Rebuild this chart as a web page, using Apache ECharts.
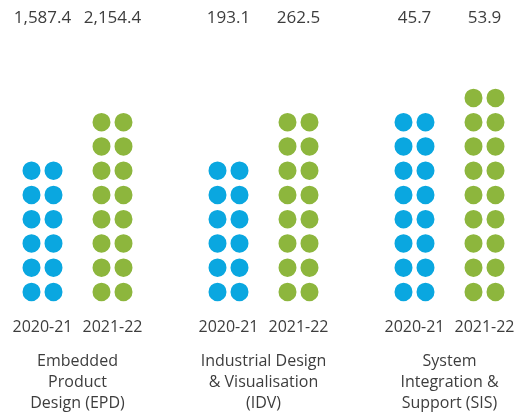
<!DOCTYPE html>
<html>
<head>
<meta charset="utf-8">
<script src="https://cdn.jsdelivr.net/npm/echarts@6/dist/echarts.min.js"></script>
<style>
  html, body { margin: 0; padding: 0; background: #fff; }
  #chart { width: 517px; height: 416px; }
</style>
</head>
<body>
<div id="chart"></div>
<script>
const groups = ['Embedded\nProduct\nDesign (EPD)', 'Industrial Design\n& Visualisation\n(IDV)', 'System\nIntegration &\nSupport (SIS)']
const years = ['2020-21', '2021-22']
const values2021 = [1587.4, 193.1, 45.7]
const values2122 = [2154.4, 262.5, 53.9]
const dots2021 = [6, 6, 8] // rows of dot pairs
const dots2122 = [8, 8, 9]

const textColor = '#3d3d3d'
const fontFamily = '"Open Sans", sans-serif'
// two circles side by side
const dotPair = 'path://M9,0A9,9 0 1,1 9,18A9,9 0 1,1 9,0ZM31,0A9,9 0 1,1 31,18A9,9 0 1,1 31,0Z'

const fmt = v => v.toLocaleString('en-US', { minimumFractionDigits: 1, maximumFractionDigits: 1 })

const chart = echarts.init(document.getElementById('chart'))

function dotSeries(name, rows, color) {
  return {
    name: name,
    type: 'pictorialBar',
    // one symbol per row, spread over the bar's own length
    data: rows.map(n => ({ value: n, symbolRepeat: n, symbolBoundingData: n })),
    symbol: dotPair,
    symbolSize: [40, 18.5],
    symbolMargin: '3!',
    barWidth: 40,
    barGap: '75%',
    itemStyle: { color: color },
    label: {
      show: true,
      position: 'bottom',
      distance: 15,
      color: textColor,
      fontFamily: fontFamily,
      fontSize: 16,
      formatter: name
    }
  }
}

chart.setOption({
  animation: false,
  grid: { left: 77.5, right: 67.5, top: 61.5, bottom: 112, outerBoundsMode: 'none' },
  xAxis: [{
    type: 'category',
    boundaryGap: false,
    data: groups,
    axisLine: { show: false },
    axisTick: { show: false },
    splitLine: { show: false },
    axisLabel: {
      interval: 0,
      margin: 47,
      color: textColor,
      fontFamily: fontFamily,
      fontSize: 16,
      lineHeight: 21
    }
  }, {
    type: 'category',
    position: 'top',
    boundaryGap: false,
    data: groups,
    axisLine: { show: false },
    axisTick: { show: false },
    splitLine: { show: false },
    axisLabel: {
      interval: 0,
      margin: 33,
      formatter: (v, i) => '{a|' + fmt(values2021[i]) + '}{a|' + fmt(values2122[i]) + '}',
      rich: {
        a: { width: 70, align: 'center', color: textColor, fontFamily: fontFamily, fontSize: 17, lineHeight: 20 }
      }
    }
  }],
  yAxis: {
    type: 'value',
    min: 0,
    max: 10,
    show: false
  },
  series: [
    dotSeries(years[0], dots2021, '#0aa7e0'),
    dotSeries(years[1], dots2122, '#8db63d')
  ]
})
</script>
</body>
</html>
